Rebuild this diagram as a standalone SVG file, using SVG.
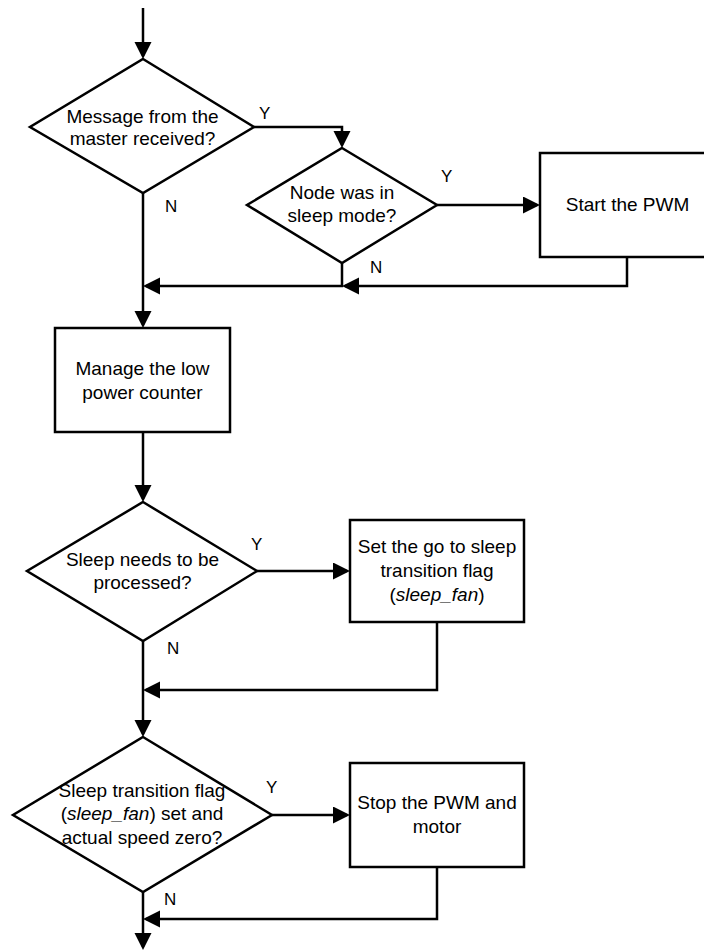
<svg xmlns="http://www.w3.org/2000/svg" width="704" height="951" viewBox="0 0 704 951">
<style>
.shape{fill:#fff;stroke:#000;stroke-width:2.5;stroke-linejoin:miter}
.edge{fill:none;stroke:#000;stroke-width:2.5;stroke-linejoin:miter}
.t{font-family:"Liberation Sans",Arial,sans-serif;font-size:19px;fill:#000;text-anchor:middle}
.lbl{font-family:"Liberation Sans",Arial,sans-serif;font-size:17px;fill:#000}
</style>
<defs>
<marker id="arr" markerUnits="userSpaceOnUse" markerWidth="18" markerHeight="18" refX="14" refY="8.5" orient="auto">
<path d="M0,0 L17,8.5 L0,17 Z" fill="#000"/>
</marker>
</defs>
<rect width="704" height="951" fill="#fff"/>
<g id="connectors">
<path class="edge" d="M143,8 V56" marker-end="url(#arr)"/>
<path class="edge" d="M254,127 H342 V145" marker-end="url(#arr)"/>
<path class="edge" d="M437,205 H537" marker-end="url(#arr)"/>
<path class="edge" d="M627,257 V286 H345" marker-end="url(#arr)"/>
<path class="edge" d="M342,263 V286 H146" marker-end="url(#arr)"/>
<path class="edge" d="M143,193 V325" marker-end="url(#arr)"/>
<path class="edge" d="M143,432 V499" marker-end="url(#arr)"/>
<path class="edge" d="M257,571 H347" marker-end="url(#arr)"/>
<path class="edge" d="M437,622 V690 H146" marker-end="url(#arr)"/>
<path class="edge" d="M143,641 V734" marker-end="url(#arr)"/>
<path class="edge" d="M272,815 H347" marker-end="url(#arr)"/>
<path class="edge" d="M437,867 V919 H146" marker-end="url(#arr)"/>
<path class="edge" d="M143,892 V947" marker-end="url(#arr)"/>
<text class="lbl" x="259" y="118.5">Y</text>
<text class="lbl" x="165" y="211.5">N</text>
<text class="lbl" x="441" y="182">Y</text>
<text class="lbl" x="370" y="273">N</text>
<text class="lbl" x="251" y="550">Y</text>
<text class="lbl" x="167" y="654">N</text>
<text class="lbl" x="266" y="793">Y</text>
<text class="lbl" x="164" y="905">N</text>
</g>
<g id="d1">
<polygon class="shape" points="143,59 254,127 143,193 30,127"/>
<text class="t" x="142.5" y="122.5">Message from the</text>
<text class="t" x="142.5" y="144.5">master received?</text>
</g>
<g id="d2">
<polygon class="shape" points="342,148 437,205 342,263 247,205"/>
<text class="t" x="342" y="199">Node was in</text>
<text class="t" x="342" y="222">sleep mode?</text>
</g>
<g id="start">
<rect class="shape" x="540" y="153" width="175" height="104"/>
<text class="t" x="627.5" y="211">Start the PWM</text>
</g>
<g id="manage">
<rect class="shape" x="55" y="328" width="175" height="104"/>
<text class="t" x="142.5" y="375">Manage the low</text>
<text class="t" x="142.5" y="398.5">power counter</text>
</g>
<g id="d3">
<polygon class="shape" points="143,502 257,571 143,641 27,571"/>
<text class="t" x="142.5" y="566">Sleep needs to be</text>
<text class="t" x="142.5" y="589">processed?</text>
</g>
<g id="setflag">
<rect class="shape" x="350" y="520" width="174" height="102"/>
<text class="t" x="437" y="553">Set the go to sleep</text>
<text class="t" x="437" y="577">transition flag</text>
<text class="t" x="437" y="600.5">(<tspan font-style="italic">sleep_fan</tspan>)</text>
</g>
<g id="d4">
<polygon class="shape" points="143,737 272,815 143,892 13,815"/>
<text class="t" x="142" y="797">Sleep transition flag</text>
<text class="t" x="142" y="820">(<tspan font-style="italic">sleep_fan</tspan>) set and</text>
<text class="t" x="142" y="844">actual speed zero?</text>
</g>
<g id="stop">
<rect class="shape" x="350" y="763" width="174" height="104"/>
<text class="t" x="437" y="809">Stop the PWM and</text>
<text class="t" x="437" y="832.5">motor</text>
</g>
</svg>
